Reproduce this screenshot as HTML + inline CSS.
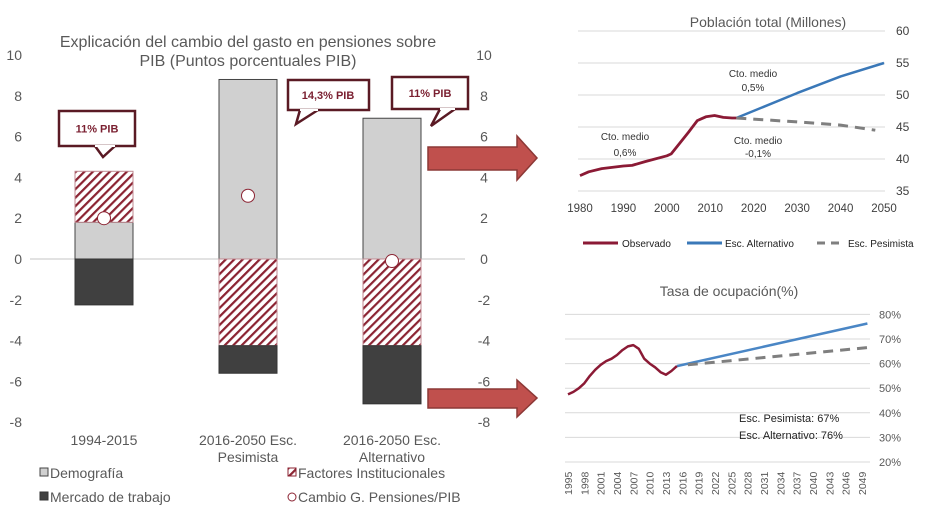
<!DOCTYPE html>
<html><head><meta charset="utf-8"><style>
body{margin:0;background:#fff;width:925px;height:513px;overflow:hidden}
svg{display:block;font-family:"Liberation Sans",sans-serif}
</style></head><body>
<svg id="s" width="925" height="513" viewBox="0 0 925 513">
<defs><pattern id="hatch" patternUnits="userSpaceOnUse" width="6" height="6" patternTransform="rotate(45)">
<rect width="6" height="6" fill="#fff"/><rect width="2.2" height="6" fill="#8b2332"/></pattern></defs>
<g id="left"></g>
<g id="pop"></g>
<g id="emp"></g>
</svg>
<script>
// Left chart data
const cats=["1994-2015","2016-2050 Esc.|Pesimista","2016-2050 Esc.|Alternativo"];
const demog=[1.8,8.8,6.9];
const instit=[2.5,-4.25,-4.25];
const labor=[-2.25,-1.35,-2.85];
const change=[2.0,3.1,-0.1];
const leftTicks=[10,8,6,4,2,0,-2,-4,-6,-8];
// Population chart data
const popObsYears=[1980,1982,1985,1990,1992,1995,2000,2001,2003,2005,2007,2008,2009,2011,2013,2015,2016];
const popObs=[37.4,38,38.5,38.9,39,39.6,40.5,40.8,42.5,44.2,46,46.3,46.6,46.8,46.5,46.4,46.4];
const popAltYears=[2016,2030,2040,2050];
const popAlt=[46.4,50.3,52.9,55];
const popPesYears=[2016,2030,2040,2048];
const popPes=[46.4,45.8,45.3,44.5];
const popYTicks=[60,55,50,45,40,35];
const popXTicks=[1980,1990,2000,2010,2020,2030,2040,2050];
// Employment chart data
const empObsYears=[1995,1996,1997,1998,1999,2000,2001,2002,2003,2004,2005,2006,2007,2008,2009,2010,2011,2012,2013,2014,2015];
const empObs=[47.5,48.5,50,52,55,57.5,59.5,61,62,63.5,65.5,67,67.5,66,62,60,58.5,56.5,55.5,57,59];
const empAltYears=[2015,2050];
const empAlt=[59,76.3];
const empPesYears=[2017,2050];
const empPes=[59.5,66.5];
const empYTicks=[80,70,60,50,40,30,20];
const empXTicks=[];for(let y=1995;y<=2049;y+=3)empXTicks.push(y);

const NS="http://www.w3.org/2000/svg";
function mk(p,t,a,txt){const e=document.createElementNS(NS,t);for(const k in a)e.setAttribute(k,a[k]);if(txt!==undefined)e.textContent=txt;p.appendChild(e);return e;}

// ---- Left chart
const L=document.getElementById('left');
const ly=v=>259-v*20.4;
const cx=i=>104+i*144;
mk(L,'line',{x1:30,x2:465,y1:259,y2:259,stroke:'#d9d9d9','stroke-width':1.5});
leftTicks.forEach(t=>{
 let e=mk(L,'text',{x:22,y:ly(t)+5,'text-anchor':'end','font-size':14,fill:'#595959'},t);
 
 e=mk(L,'text',{x:484,y:ly(t)+5,'text-anchor':'middle','font-size':14,fill:'#595959'},t);
 
});
let tt=mk(L,'text',{x:248,y:47,'text-anchor':'middle','font-size':16,fill:'#595959'},'Explicación del cambio del gasto en pensiones sobre');

mk(L,'text',{x:248,y:66,'text-anchor':'middle','font-size':16,fill:'#595959'},'PIB (Puntos porcentuales PIB)');
cats.forEach((c,i)=>{
 const x=cx(i)-29,w=58;
 let r=mk(L,'rect',{x:x,y:ly(demog[i]),width:w,height:demog[i]*20.4,fill:'#d0d0d0',stroke:'#444','stroke-width':1});
 
 const ib=instit[i]>0?demog[i]:0, it=ib+instit[i];
 r=mk(L,'rect',{x:x,y:ly(Math.max(ib,it)),width:w,height:Math.abs(instit[i])*20.4,fill:'url(#hatch)',stroke:'#c08a92','stroke-width':1});
 
 const lb=Math.min(0,instit[i]<0?instit[i]:0);
 r=mk(L,'rect',{x:x,y:ly(lb),width:w,height:Math.abs(labor[i])*20.4,fill:'#404040',stroke:'#333','stroke-width':1});
 
 const pt=mk(L,'circle',{cx:cx(i),cy:ly(change[i]),r:6.5,fill:'#fff',stroke:'#8b2332','stroke-width':1});
 
 c.split('|').forEach((s,j)=>{const e=mk(L,'text',{x:cx(i),y:445+j*17,'text-anchor':'middle','font-size':14,fill:'#595959'},s);
  });
});
// callouts
[[59,111,76,35,"M95,146 L103,157 L115,146","11% PIB",97],[288,80,81,30,"M300,110 L296,124 L318,110","14,3% PIB",328],[392,77,76,32,"M440,109 L431,126 L455,109","11% PIB",430]].forEach(c=>{
 const g=mk(L,'g',{});
 mk(g,'rect',{x:c[0],y:c[1],width:c[2],height:c[3],fill:'#fff',stroke:'#5a1a24','stroke-width':2.5});
 mk(g,'path',{d:c[4],fill:'#fff',stroke:'#5a1a24','stroke-width':2.5});
 mk(g,'line',{x1:c[4].split(' ')[0].slice(1).split(',')[0],y1:c[1]+c[3],x2:c[4].split(' ')[2].slice(1).split(',')[0],y2:c[1]+c[3],stroke:'#fff','stroke-width':2});
 mk(g,'text',{x:c[6],y:c[1]+c[3]/2+4,'text-anchor':'middle','font-size':11,'font-weight':'bold',fill:'#7a1f30'},c[5]);
});
// arrows
[[147,170,136,180,158],[389,408,380,417,398]].forEach(a=>{
 const p=mk(L,'path',{d:`M428,${a[0]} L517,${a[0]} L517,${a[2]} L537,${a[4]} L517,${a[3]} L517,${a[1]} L428,${a[1]} Z`,fill:'#c0504d',stroke:'#8c3836','stroke-width':1.5});
 
});
// legend
[[40,478,'#d0d0d0','#444','Demografía'],[288,478,'url(#hatch)','#8b2332','Factores Institucionales'],[40,502,'#404040','#333','Mercado de trabajo']].forEach(l=>{
 const g=mk(L,'g',{});
 mk(g,'rect',{x:l[0],y:l[1]-10,width:8,height:8,fill:l[2],stroke:l[3]});
 mk(g,'text',{x:l[0]+10,y:l[1],'font-size':14,fill:'#595959'},l[4]);
});
{const g=mk(L,'g',{});
 mk(g,'circle',{cx:292,cy:497,r:4,fill:'#fff',stroke:'#8b2332'});
 mk(g,'text',{x:298,y:502,'font-size':14,fill:'#595959'},'Cambio G. Pensiones/PIB');}

// ---- Population chart
const P=document.getElementById('pop');
const px=y=>580+(y-1980)*(304/70), py=v=>191-(v-35)*6.4;
popYTicks.forEach(t=>{mk(P,'line',{x1:578,x2:885,y1:py(t),y2:py(t),stroke:'#d9d9d9'});
 const e=mk(P,'text',{x:896,y:py(t)+4,'text-anchor':'start','font-size':12,fill:'#404040'},t);
 });
popXTicks.forEach(t=>{const e=mk(P,'text',{x:px(t),y:212,'text-anchor':'middle','font-size':11.5,fill:'#404040'},t);
 });
tt=mk(P,'text',{x:768,y:27,'text-anchor':'middle','font-size':14,fill:'#595959'},'Población total (Millones)');

function line(g,xs,ys,fx,fy,col,w,dash,name){const d=xs.map((x,i)=>(i?'L':'M')+fx(x).toFixed(1)+','+fy(ys[i]).toFixed(1)).join(' ');
 const p=mk(g,'path',{d:d,fill:'none',stroke:col,'stroke-width':w,'stroke-linejoin':'round','stroke-dasharray':dash||'none'});
 }
line(P,popAltYears,popAlt,px,py,'#3a78b8',2.5,'','pop-line-alternativo');
line(P,popPesYears,popPes,px,py,'#7f7f7f',3,'10,7','pop-line-pesimista');
line(P,popObsYears,popObs,px,py,'#8b1a35',2.8,'','pop-line-observado');
[[625,140,'Cto. medio'],[625,156,'0,6%'],[753,77,'Cto. medio'],[753,91,'0,5%'],[758,144,'Cto. medio'],[758,157,'-0,1%']].forEach(a=>{
 const e=mk(P,'text',{x:a[0],y:a[1],'text-anchor':'middle','font-size':10,fill:'#333'},a[2]);
 });
[[583,618,'#8b1a35','','Observado',622],[687,722,'#3a78b8','','Esc. Alternativo',725],[817,840,'#7f7f7f','8,6','Esc. Pesimista',848]].forEach(l=>{
 const g=mk(P,'g',{});
 mk(g,'line',{x1:l[0],x2:l[1],y1:243,y2:243,stroke:l[2],'stroke-width':3,'stroke-dasharray':l[3]||'none'});
 mk(g,'text',{x:l[5],y:247,'font-size':10,fill:'#222'},l[4]);});

// ---- Employment chart
const E=document.getElementById('emp');
const ex=y=>568+(y-1995)*(294/54), ey=v=>462-(v-20)*2.46;
empYTicks.forEach(t=>{mk(E,'line',{x1:565,x2:870,y1:ey(t),y2:ey(t),stroke:'#d9d9d9'});
 const e=mk(E,'text',{x:879,y:ey(t)+4,'font-size':11,fill:'#595959'},t+'%');
 });
empXTicks.forEach(t=>{const e=mk(E,'text',{x:0,y:0,transform:`translate(${ex(t)+4},${495}) rotate(-90)`,'font-size':10.5,fill:'#595959'},t);
 });
tt=mk(E,'text',{x:729,y:296,'text-anchor':'middle','font-size':14,fill:'#595959'},'Tasa de ocupación(%)');

line(E,empAltYears,empAlt,ex,ey,'#4a86c5',2.5,'','emp-line-alternativo');
line(E,empPesYears,empPes,ex,ey,'#7f7f7f',3,'10,7','emp-line-pesimista');
line(E,empObsYears,empObs,ex,ey,'#8b1a35',2.5,'','emp-line-observado');
[[739,422,'Esc. Pesimista: 67%'],[739,439,'Esc. Alternativo: 76%']].forEach(a=>{
 const e=mk(E,'text',{x:a[0],y:a[1],'font-size':11,fill:'#222'},a[2]);
 });
</script>
</body></html>
